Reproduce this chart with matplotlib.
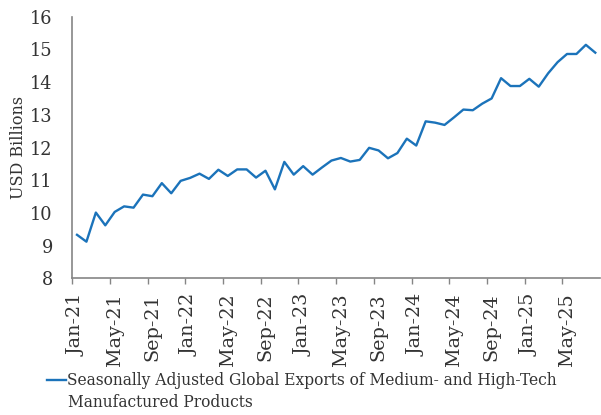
import matplotlib.pyplot as plt
import numpy as np

plt.rcParams['font.family'] = ['DejaVu Serif']

month_names = ['Jan', 'Feb', 'Mar', 'Apr', 'May', 'Jun',
               'Jul', 'Aug', 'Sep', 'Oct', 'Nov', 'Dec']
years = [21, 22, 23, 24, 25]
months = [f'{m}-{y}' for y in years for m in month_names][:56]

exports = [
    9.33, 9.12, 10.01, 9.62, 10.03, 10.20, 10.16, 10.56, 10.51, 10.91, 10.60, 10.98,
    11.07, 11.20, 11.04, 11.32, 11.13, 11.33, 11.33, 11.08, 11.29, 10.72, 11.56, 11.17,
    11.43, 11.17, 11.39, 11.60, 11.68, 11.57, 11.62, 11.99, 11.91, 11.67, 11.83, 12.27,
    12.06, 12.80, 12.76, 12.69, 12.92, 13.16, 13.14, 13.34, 13.50, 14.12, 13.88, 13.88,
    14.10, 13.86, 14.27, 14.61, 14.86, 14.86, 15.14, 14.90,
]
series_name = ['Seasonally Adjusted Global Exports of Medium- and High-Tech',
               'Manufactured Products']

W, H = 601, 415
text_color = '#333333'
axis_color = '#858585'

fig = plt.figure(figsize=(W / 100, H / 100), dpi=100)
ax = fig.add_axes([72.3 / W, 1 - 278.3 / H, (600 - 72.3) / W, (278.3 - 16.7) / H])

x = np.arange(len(exports))
line, = ax.plot(x, exports, color='#1b73ba', lw=1.7)

ax.set_xlim(-0.5, len(exports) - 0.5)
ax.set_ylim(8, 16)
ax.set_yticks(range(8, 17))

# labels sit on the month, tick marks on the boundaries between months
ax.set_xticks(x[::4])
ax.set_xticklabels([months[i] for i in x[::4]], rotation=90,
                   rotation_mode='anchor', ha='right', va='center')
ax.set_xticks(x[::4] - 0.5, minor=True)
ax.tick_params(axis='x', which='major', length=0, pad=11, labelsize=13.8, labelcolor=text_color)
ax.tick_params(axis='x', which='minor', length=4.5, width=1, color=axis_color)
ax.tick_params(axis='y', length=0, pad=14, labelsize=12.8, labelcolor=text_color)

for side in ['top', 'right']:
    ax.spines[side].set_visible(False)
for side in ['left', 'bottom']:
    ax.spines[side].set_color(axis_color)
    ax.spines[side].set_linewidth(1.2)

ax.set_ylabel('USD Billions', fontsize=11.5, color=text_color)
ax.yaxis.set_label_coords(-0.085, 0.5)

leg = fig.legend([line], [series_name[0]], loc='upper left',
                 bbox_to_anchor=(47 / W, 1 - 372 / H), frameon=False,
                 fontsize=11.2, handlelength=1.2, handletextpad=0.1,
                 labelcolor=text_color, borderaxespad=0, borderpad=0)
fig.text(67.5 / W, 1 - 407 / H, series_name[1], fontsize=11.2,
         color=text_color, ha='left', va='baseline')

fig.savefig('out.png', dpi=100)
